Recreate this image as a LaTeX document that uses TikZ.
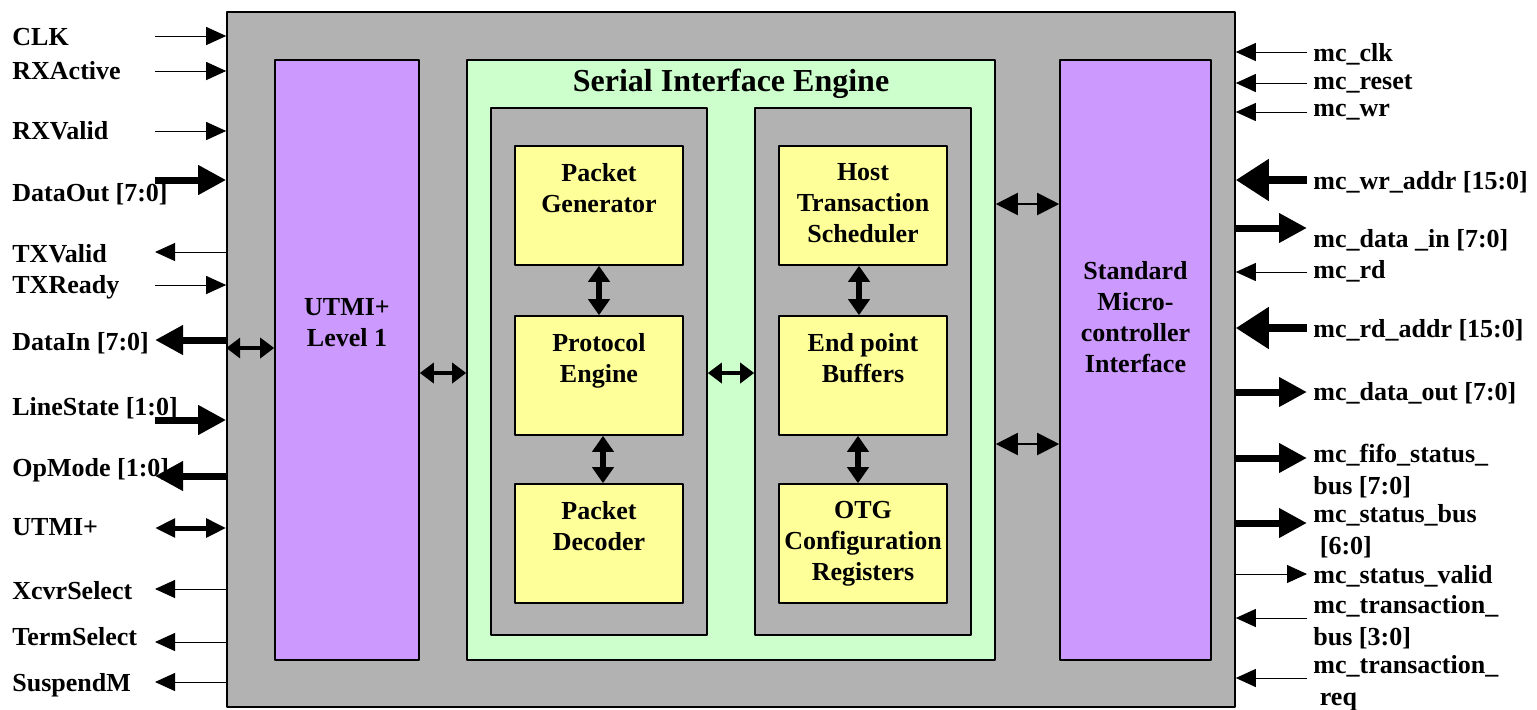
\documentclass[tikz,border=0pt]{standalone}
\usepackage{fontspec}
\setmainfont{Liberation Serif}
\usetikzlibrary{arrows.meta,positioning,fit}
\definecolor{gryc}{HTML}{B2B2B2}
\definecolor{purc}{HTML}{CC99FF}
\definecolor{grnc}{HTML}{CCFFCC}
\definecolor{ylwc}{HTML}{FFFF99}
\begin{document}
\begin{tikzpicture}[x=.5pt, y=-.5pt, font=\fontsize{13}{15.5}\selectfont\bfseries, line join=round,
    box/.style={draw, line width=.8pt, inner sep=0pt},
    gry/.style={box, fill=gryc}, pur/.style={box, fill=purc},
    grn/.style={box, fill=grnc}, ylw/.style={box, fill=ylwc},
    txt/.style={inner sep=0pt, align=center},
    lbl/.style={inner sep=0pt, anchor=north west, align=left, font=\fontsize{13}{16}\selectfont\bfseries},
    sig/.style={line width=.5pt, >={Triangle[length=10pt,width=9pt]}},
    bus/.style={line width=3.5pt, >={Triangle[length=14pt,width=14pt]}},
    big/.style={line width=4pt, >={Triangle[length=16.5pt,width=20pt]}},
    sbus/.style={line width=2.5pt, >={Triangle[length=10pt,width=9pt]}},
    sigI/.style={sig,->}, sigO/.style={sig,<-}, busI/.style={bus,->}, busO/.style={bus,<-},
    bigI/.style={big,->}, busIO/.style={sbus,<->},
    lnk/.style={line width=1.8pt, <->, >={Triangle[length=7pt,width=10pt]}},
    lnkv/.style={line width=2.8pt, <->, >={Triangle[length=8pt,width=10.5pt]}},
    lnkw/.style={line width=1pt, <->, >={Triangle[length=11pt,width=11pt]}}]
    \def\xl{155}\def\xr{1307}
    \useasboundingbox (0,0) rectangle (1537,709);
    \node[gry, fit={(227,12) (1235,707)}] (core) {};
    \node[pur, fit={(275,60) (419,660)}] (utmi) {};
    \node[grn, fit={(467,60) (995,660)}] (sie) {};
    \node[pur, fit={(1060,60) (1211,660)}] (smi) {};
    \node[gry, fit={(491,108) (707,635)}] (pa) {};
    \node[gry, fit={(755,108) (971,635)}] (pb) {};
    \node[txt, font=\fontsize{16}{19}\selectfont\bfseries, below=4.5pt of sie.north] (siet) {Serial Interface Engine};
    \node[txt, below=119.5pt of utmi.north] (utmit) {UTMI+\\Level 1};
    \node[txt, below=101pt of smi.north] (smit) {Standard\\Micro-\\controller\\Interface};
    \foreach \n/\xa/\ya/\t in {pg/515/146/{Packet\\Generator}, pe/515/316/{Protocol\\Engine}, pd/515/484/{Packet\\Decoder},
        hts/779/146/{Host\\Transaction\\Scheduler}, ep/779/316/{End point\\Buffers}, otg/779/484/{OTG\\Configuration\\Registers}} {
        \node[ylw, fit={(\xa,\ya) (\xa+168,\ya+119)}] (\n) {};
        \node[txt, below=9pt of \n.north] (t\n) {\t};
    }
    \draw[lnkv] (pg) -- (pe);
    \draw[lnkv] ([xshift=2pt]pe.south) -- ([xshift=2pt]pd.north);
    \draw[lnkv] ([xshift=-2pt]hts.south) -- ([xshift=-2pt]ep.north);
    \draw[lnkv] ([xshift=-2.5pt]ep.south) -- ([xshift=-2.5pt]otg.north);
    \draw[lnk] (core.west |- 0,348) -- (utmi.west |- 0,348);
    \draw[lnk] (utmi.east |- 0,373) -- (sie.west |- 0,373);
    \draw[lnk] (pa.east |- 0,373) -- (pb.west |- 0,373);
    \draw[lnkw] (sie.east |- 0,204) -- (smi.west |- 0,204);
    \draw[lnkw] (sie.east |- 0,444) -- (smi.west |- 0,444);
    \foreach \yl/\ya/\t/\s [count=\i] in {37/36/CLK/sigI, 70/71/RXActive/sigI, 130/131/RXValid/sigI,
        192/180/{DataOut [7:0]}/busI, 253/252/TXValid/sigO, 284/285/TXReady/sigI, 341/340/{DataIn [7:0]}/busO,
        406/420/{LineState [1:0]}/busI, 467/476/{OpMode [1:0]}/busO, 527/528/UTMI+/busIO,
        590/589/XcvrSelect/sigO, 636/642/TermSelect/sigO, 682/682/SuspendM/sigO} {
        \node[lbl] (l\i) at (12,\yl-9) {\t};
        \coordinate (a\i) at (\xl,\ya);
        \draw[\s] (a\i) -- (a\i -| core.west);
    }
    \foreach \yl/\ya/\t/\s [count=\i] in {52/52/mc\_clk/sigI, 83/83/mc\_reset/sigI, 113/112/mc\_wr/sigI,
        180/180/{mc\_wr\_addr [15:0]}/bigI, 238/228/{mc\_data \_in [7:0]}/busO, 269/272/mc\_rd/sigI,
        328/328/{mc\_rd\_addr [15:0]}/bigI, 391/392/{mc\_data\_out [7:0]}/busO,
        453/458/{mc\_fifo\_status\_\\bus [7:0]}/busO, 513/523/{mc\_status\_bus\\\ [6:0]}/busO,
        574/574/mc\_status\_valid/sigO, 604/618/{mc\_transaction\_\\bus [3:0]}/sigI,
        664/678/{mc\_transaction\_\\\ req}/sigI} {
        \node[lbl] (r\i) at (1313,\yl-9) {\t};
        \coordinate (b\i) at (\xr,\ya);
        \draw[\s] (b\i) -- (b\i -| core.east);
    }
\end{tikzpicture}
\end{document}
